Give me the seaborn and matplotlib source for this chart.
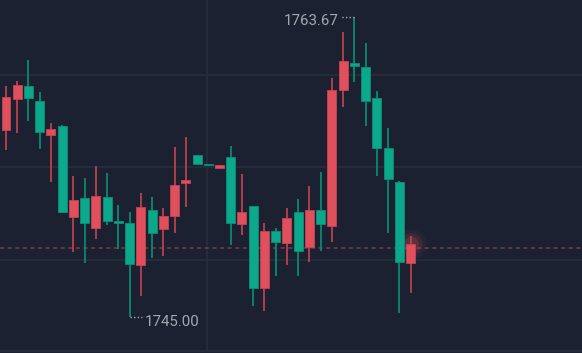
import numpy as np
import pandas as pd
import seaborn as sns
import matplotlib.pyplot as plt

# candle data
opens = [1756.64, 1758.53, 1759.36, 1758.42, 1756.33, 1756.87, 1751.21, 1752.37, 1750.50, 1752.45,
         1750.96, 1750.81, 1748.24, 1751.64, 1750.44, 1751.29, 1753.30, 1755.06, 1754.46, 1754.24,
         1754.94, 1750.75, 1751.89, 1746.77, 1750.33, 1749.57, 1751.50, 1749.34, 1751.64, 1750.66,
         1759.13, 1760.77, 1760.52, 1758.59, 1755.48, 1753.37, 1748.32]
highs = [1759.36, 1759.67, 1760.99, 1758.98, 1757.04, 1756.95, 1753.76, 1753.61, 1754.38, 1753.92,
         1751.97, 1751.52, 1752.68, 1752.45, 1751.75, 1755.56, 1756.17, 1755.06, 1754.46, 1754.47,
         1755.62, 1753.90, 1751.89, 1750.81, 1750.50, 1751.75, 1752.31, 1753.13, 1754.01, 1759.84,
         1762.70, 1763.67, 1762.01, 1759.05, 1756.73, 1753.45, 1750.02]
lows = [1755.39, 1756.41, 1757.20, 1755.46, 1753.38, 1751.44, 1749.03, 1748.32, 1749.82, 1750.73,
        1749.23, 1745.00, 1746.31, 1748.64, 1748.80, 1750.19, 1751.85, 1754.49, 1754.42, 1754.24,
        1749.48, 1750.10, 1745.67, 1745.37, 1747.53, 1748.24, 1747.53, 1748.41, 1749.11, 1749.65,
        1758.05, 1759.61, 1756.89, 1753.78, 1750.19, 1745.21, 1746.46]
closes = [1758.65, 1759.44, 1758.59, 1756.50, 1756.70, 1751.52, 1752.28, 1750.81, 1752.51, 1750.98,
          1750.81, 1748.26, 1751.83, 1750.21, 1751.27, 1753.22, 1753.53, 1754.49, 1754.42, 1754.47,
          1750.81, 1751.50, 1746.77, 1750.33, 1749.65, 1751.12, 1749.11, 1751.64, 1750.75, 1759.13,
          1760.91, 1760.62, 1758.44, 1755.48, 1753.55, 1748.41, 1749.51]
price_grid = [1760.06, 1754.32, 1748.53]
time_grid = [18]
last_price = 1749.30

bg = '#1b2130'
grid_c = '#262e3c'
up_c, up_wick = '#e04f5c', '#b9434f'
dn_c, dn_wick = '#0ba88b', '#0b8a73'
txt_c = '#a2a8b2'

sns.set_theme(style='dark', rc={'axes.facecolor': bg, 'figure.facecolor': bg})
plt.rcParams['font.family'] = ['Roboto', 'DejaVu Sans']

df = pd.DataFrame({'open': opens, 'high': highs, 'low': lows, 'close': closes})
df['idx'] = np.arange(len(df))
df['up'] = df['close'] >= df['open']
df['body_lo'] = df[['open', 'close']].min(axis=1)
df['body_h'] = (df['close'] - df['open']).abs().clip(lower=0.1)

fig = plt.figure(figsize=(5.82, 3.53), dpi=100)
ax = fig.add_axes([0, 2 / 353, 1, 351 / 353])
ax.set_facecolor(bg)

for p in price_grid:
    ax.axhline(p, color=grid_c, lw=1.2, zorder=0)
for t in time_grid:
    ax.axvline(t - 0.07, color=grid_c, lw=1.2, zorder=0)

ax.axhline(last_price, color='#6c3843', lw=1.3, ls=(0, (2.3, 1.9)), zorder=1)

# glow on the last candle
last = df.iloc[-1]
for s, a in [(450, 0.07), (260, 0.12), (120, 0.2)]:
    ax.scatter(last['idx'], last['close'], s=s, color=up_c, alpha=a, lw=0, zorder=1.5)

ax.vlines(df['idx'], df['low'], df['high'],
          colors=np.where(df['up'], up_wick, dn_wick), lw=1.3, zorder=2)
ax.bar(df['idx'], df['body_h'], bottom=df['body_lo'], width=0.8,
       color=np.where(df['up'], up_c, dn_c),
       edgecolor=np.where(df['up'], '#c44652', '#0a9079'), lw=0.6, zorder=3)

# high / low markers
hi = df['high'].idxmax()
lo = df['low'].idxmin()
h, l = df.loc[hi, 'high'], df.loc[lo, 'low']
ax.plot([hi, hi - 1.15], [h, h], color=txt_c, lw=1, ls=(0, (1, 1.6)), zorder=4)
ax.annotate(f'{h:.2f}', (hi, h), xytext=(-11.6, -3.4), textcoords='offset points',
            ha='right', va='center', color=txt_c, fontsize=10.8)
ax.plot([lo, lo + 1.1], [l, l], color=txt_c, lw=1, ls=(0, (1, 1.6)), zorder=4)
ax.annotate(f'{l:.2f}', (lo, l), xytext=(11.0, -3.6), textcoords='offset points',
            ha='left', va='center', color=txt_c, fontsize=10.8)

ax.set_xlim(-0.534, 51.26)
ax.set_ylim(1742.87, 1764.71)
ax.set_xticks([])
ax.set_yticks([])
for side in ['top', 'left', 'right']:
    ax.spines[side].set_visible(False)
ax.spines['bottom'].set_color(grid_c)
ax.spines['bottom'].set_linewidth(1.2)

fig.savefig('out.png', dpi=100, facecolor=bg)
